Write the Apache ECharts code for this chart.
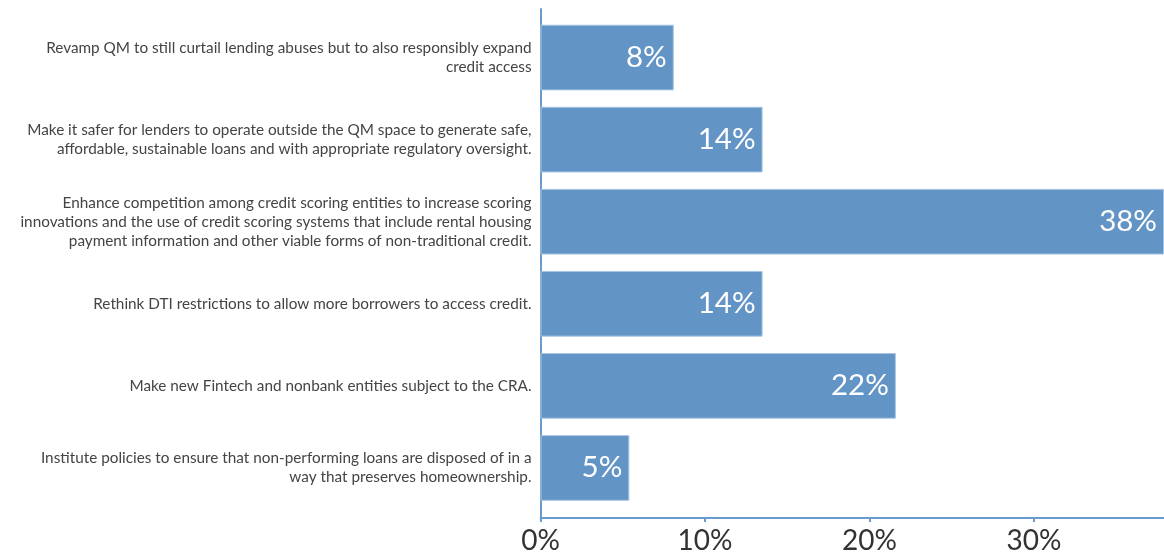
<!DOCTYPE html>
<html>
<head>
<meta charset="utf-8">
<script src="https://cdn.jsdelivr.net/npm/echarts@6/dist/echarts.min.js"></script>
<style>
  html, body { margin: 0; padding: 0; background: #fff; }
  #chart { width: 1164px; height: 555px; }
</style>
</head>
<body>
<div id="chart"></div>
<script>
// Survey answers (shares of respondents, %)
const categories = [
  'Revamp QM to still curtail lending abuses but to also responsibly expand\ncredit access',
  'Make it safer for lenders to operate outside the QM space to generate safe,\naffordable, sustainable loans and with appropriate regulatory oversight.',
  'Enhance competition among credit scoring entities to increase scoring\ninnovations and the use of credit scoring systems that include rental housing\npayment information and other viable forms of non-traditional credit.',
  'Rethink DTI restrictions to allow more borrowers to access credit.',
  'Make new Fintech and nonbank entities subject to the CRA.',
  'Institute policies to ensure that non-performing loans are disposed of in a\nway that preserves homeownership.'
];
const shares = [8.1, 13.5, 37.9, 13.5, 21.6, 5.4];
const xTicks = [0, 10, 20, 30];

const FONT = 'Lato';
const BAR = '#6394c6';
const AXIS = '#6a9bcd';
const xMax = Math.max(...shares);

const chart = echarts.init(document.getElementById('chart'), null, { renderer: 'canvas' });

chart.setOption({
  animation: false,
  backgroundColor: '#ffffff',
  grid: [
    // frame grid: carries the visible axis lines and the % tick labels
    { left: 540.5, right: 0, top: 9, bottom: 36.5, containLabel: false },
    // bar grid: carries the categories and the bars
    { left: 540.5, right: 0, top: 16.5, bottom: 46, containLabel: false }
  ],
  xAxis: [
    {
      gridIndex: 0, type: 'value', min: 0, max: xMax,
      axisLine: { show: true, lineStyle: { color: AXIS, width: 2 } },
      axisTick: { show: true, length: 4, lineStyle: { color: AXIS, width: 2 }, customValues: xTicks },
      axisLabel: {
        customValues: xTicks,
        formatter: v => v + '%',
        fontFamily: FONT, fontSize: 28, color: '#333333', margin: 9
      },
      splitLine: { show: false }
    },
    {
      gridIndex: 1, type: 'value', min: 0, max: xMax, show: false
    }
  ],
  yAxis: [
    {
      gridIndex: 0, type: 'value', min: 0, max: 1,
      axisLine: { show: true, lineStyle: { color: AXIS, width: 2 } },
      axisTick: { show: false }, axisLabel: { show: false }, splitLine: { show: false }
    },
    {
      gridIndex: 1, type: 'category', inverse: true, data: categories,
      axisLine: { show: false }, axisTick: { show: false }, splitLine: { show: false },
      axisLabel: {
        fontFamily: FONT, fontSize: 15.3, color: '#444444', lineHeight: 19,
        align: 'right', margin: 9
      }
    }
  ],
  series: [
    {
      type: 'bar',
      xAxisIndex: 1, yAxisIndex: 1,
      data: shares,
      barCategoryGap: '20%',
      itemStyle: { color: BAR, borderColor: '#a6c4e3', borderWidth: 1 },
      label: {
        show: true, position: 'insideRight', distance: 7,
        formatter: p => Math.round(p.value) + '%',
        fontFamily: FONT, fontSize: 29.5, color: '#ffffff'
      }
    }
  ]
});
</script>
</body>
</html>
